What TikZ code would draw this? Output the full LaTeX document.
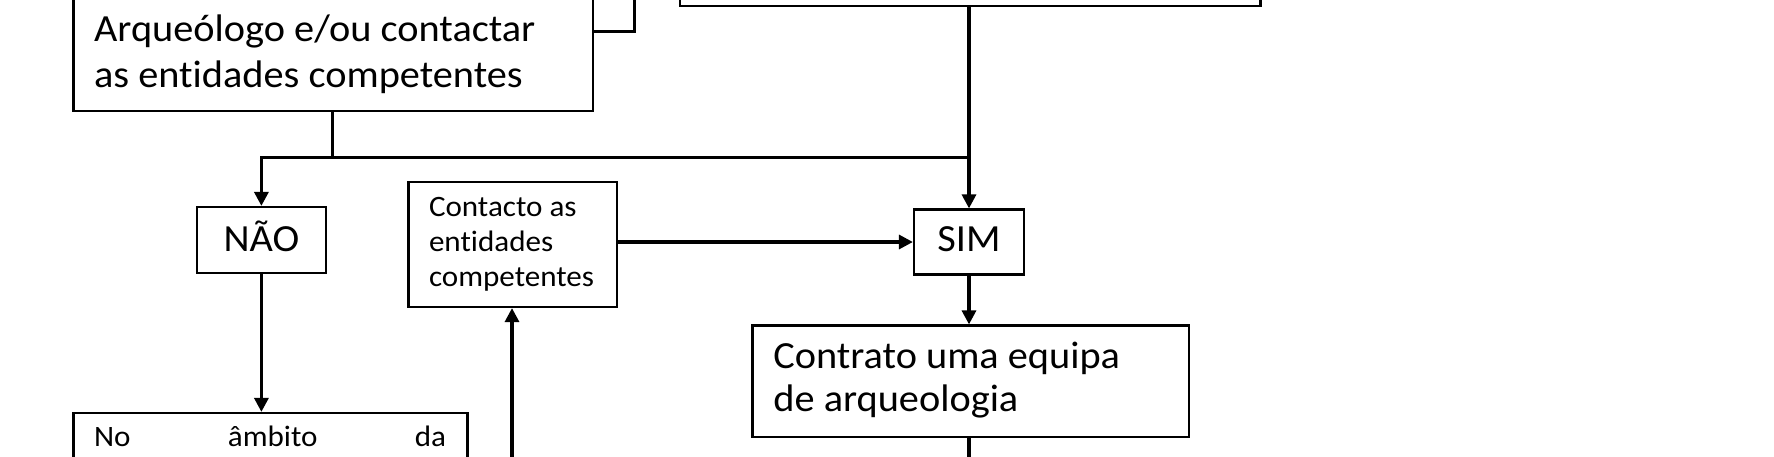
\documentclass[tikz,border=0pt]{standalone}
\usepackage{fontspec}
\setmainfont{Carlito}[Ligatures=NoCommon, FakeStretch=1.05]
\usetikzlibrary{arrows.meta}
\tikzset{
  box/.style={draw=black, line width=1.1pt, fill=white, inner sep=0pt},
  txt/.style={inner sep=0pt, anchor=base west},
  bigf/.style={font=\fontsize{19.2pt}{22pt}\selectfont},
  smallf/.style={font=\fontsize{14.8pt}{17pt}\selectfont},
  conn/.style={line width=1.6pt},
  arr/.style={line width=1.6pt, -{Triangle[length=7pt,width=7pt]}},
}
\begin{document}
\begin{tikzpicture}[x=0.5pt,y=-0.5pt]
\useasboundingbox (0,0) rectangle (1774,456);
\clip (0,0) rectangle (1774,456);
% boxes
\node[box, minimum width=519.5*0.5pt, minimum height=171*0.5pt] (tl) at (333.25,25.5) {};
\node[box, minimum width=580.4*0.5pt, minimum height=65.7*0.5pt] (tr) at (970.2,-27.15) {};
\node[box, minimum width=129*0.5pt, minimum height=66*0.5pt] (nao) at (261.4,240) {};
\node[box, minimum width=208.5*0.5pt, minimum height=125*0.5pt] (cont) at (512.75,244.5) {};
\node[box, minimum width=110*0.5pt, minimum height=65*0.5pt] (sim) at (969,242) {};
\node[box, minimum width=436.5*0.5pt, minimum height=111.5*0.5pt] (ctr) at (970.75,381.25) {};
\node[box, minimum width=394*0.5pt, minimum height=107*0.5pt] (bl) at (270.5,466.5) {};
% texts
\node[txt, bigf] (tla) at (93.75,41.7) {Arqueólogo e/ou contactar};
\node[txt, bigf] (tlb) at (93.75,87.3) {as entidades competentes};
\node[inner sep=0pt, anchor=base, bigf] (naot) at (nao.center |- 0,251.7) {NÃO};
\node[inner sep=0pt, anchor=base, bigf] (simt) at (sim.center |- 0,251.7) {SIM};
\node[txt, smallf] (ca) at (428.6,216.7) {Contacto as};
\node[txt, smallf] (cb) at (428.6,251.7) {entidades};
\node[txt, smallf] (cc) at (428.6,286.7) {competentes};
\node[txt, bigf] (cra) at (773,368.3) {Contrato uma equipa};
\node[txt, bigf] (crb) at (773,411.7) {de arqueologia};
\node[txt, smallf] (bla) at (93.75,446.7) {\makebox[176pt][s]{No\hfill âmbito\hfill da}};
% connectors
\coordinate (c1) at (634.7,-10);
\coordinate (c1b) at (634.7,31.7);
\draw[conn] (c1) -- (c1b) -- (c1b -| tl.east);
\draw[arr] (sim.north |- tr.south) -- (sim.north);
\coordinate (j) at (332.6,157.3);
\draw[conn] (tl.south -| j) -- (j) -- (j -| sim.north);
\draw[arr] (j) -| (nao.north);
\draw[arr] (cont.east |- sim.west) -- (sim.west);
\draw[arr] (sim.south) -- (sim.south |- ctr.north);
\coordinate (c2) at (969,470);
\draw[conn] (ctr.south -| c2) -- (c2);
\draw[arr] (nao.south) -- (nao.south |- bl.north);
\coordinate (c3) at (512,470);
\draw[arr] (c3) -- (c3 |- cont.south);
\end{tikzpicture}
\end{document}
